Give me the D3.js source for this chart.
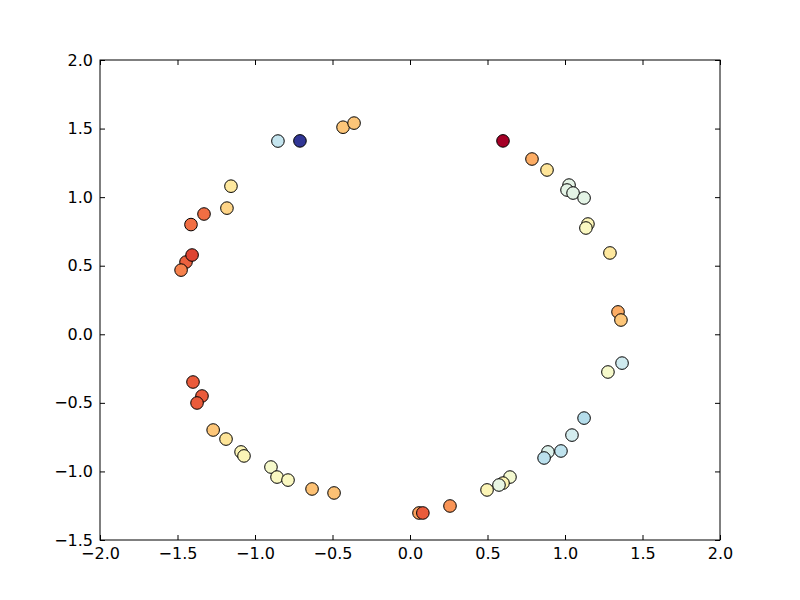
<!DOCTYPE html>
<html>
<head>
<meta charset="utf-8">
<script src="https://cdn.jsdelivr.net/npm/d3@7"></script>
<style>
  body { margin: 0; background: #fff; }
</style>
</head>
<body>
<svg width="800" height="600"></svg>
<script>
// point positions, colour value on the RdYlBu map
const xs = [-0.852, -0.71, -0.432, -0.361, -1.155, -1.181, -1.329, -1.413, -1.445, -1.477, -1.406,
  0.6, 0.787, 0.884, 1.026, 1.013, 1.052, 1.123, 1.148, 1.135, 1.29,
  1.342, 1.361, 1.368, 1.277, 1.123, 1.045, 0.974, 0.89, 0.865,
  0.645, 0.6, 0.574, 0.497, 0.258, 0.058, 0.083,
  -1.4, -1.342, -1.374, -1.27, -1.187, -1.09, -1.071, -0.897, -0.858, -0.787, -0.632, -0.49]
const ys = [1.409, 1.41, 1.51, 1.54, 1.08, 0.92, 0.877, 0.80, 0.527, 0.468, 0.578,
  1.41, 1.278, 1.198, 1.088, 1.052, 1.03, 0.994, 0.804, 0.775, 0.593,
  0.163, 0.104, -0.21, -0.275, -0.611, -0.735, -0.851, -0.858, -0.902,
  -1.041, -1.085, -1.099, -1.135, -1.252, -1.303, -1.303,
  -0.348, -0.45, -0.501, -0.698, -0.764, -0.858, -0.887, -0.968, -1.041, -1.063, -1.128, -1.157]
const cs = [0.65, 1.0, 0.35, 0.35, 0.43, 0.38, 0.2, 0.2, 0.18, 0.23, 0.13,
  0.0, 0.3, 0.42, 0.58, 0.58, 0.58, 0.58, 0.48, 0.5, 0.43,
  0.3, 0.35, 0.63, 0.52, 0.68, 0.62, 0.66, 0.6, 0.67,
  0.53, 0.47, 0.57, 0.48, 0.26, 0.28, 0.17,
  0.17, 0.17, 0.17, 0.35, 0.42, 0.48, 0.48, 0.52, 0.5, 0.5, 0.34, 0.34]
const xTicks = [-2.0, -1.5, -1.0, -0.5, 0.0, 0.5, 1.0, 1.5, 2.0]
const yTicks = [-1.5, -1.0, -0.5, 0.0, 0.5, 1.0, 1.5, 2.0]

const svg = d3.select('svg')
const margin = { top: 60, right: 80, bottom: 60, left: 100 }
const width = +svg.attr('width') - margin.left - margin.right
const height = +svg.attr('height') - margin.top - margin.bottom

const x = d3.scaleLinear().domain([-2, 2]).range([0, width])
const y = d3.scaleLinear().domain([-1.5, 2]).range([height, 0])
const fmt = d3.format('.1f')

const g = svg.append('g').attr('transform', `translate(${margin.left},${margin.top})`)

const data = xs.map((d, i) => ({ x: d, y: ys[i], c: cs[i] }))

g.selectAll('.dot')
  .data(data)
  .enter().append('circle')
  .attr('class', 'dot')
  .attr('cx', d => x(d.x))
  .attr('cy', d => y(d.y))
  .attr('r', 6.3)
  .attr('fill', d => d3.interpolateRdYlBu(d.c))
  .attr('stroke', '#000')
  .attr('stroke-width', 1)

// matplotlib classic: ticks pointing inward on all four sides
const tick = 5
const axes = [
  d3.axisBottom(x).tickValues(xTicks).tickFormat(fmt).tickSizeInner(-tick).tickSizeOuter(0).tickPadding(8),
  d3.axisTop(x).tickValues(xTicks).tickFormat('').tickSizeInner(-tick).tickSizeOuter(0),
  d3.axisLeft(y).tickValues(yTicks).tickFormat(fmt).tickSizeInner(-tick).tickSizeOuter(0).tickPadding(7),
  d3.axisRight(y).tickValues(yTicks).tickFormat('').tickSizeInner(-tick).tickSizeOuter(0)
]
const shifts = [`translate(0,${height})`, 'translate(0,0)', 'translate(0,0)', `translate(${width},0)`]
axes.forEach((a, i) => {
  const ag = g.append('g').attr('transform', shifts[i]).call(a)
    .attr('font-size', 16)
    .attr('font-family', '"DejaVu Sans", sans-serif')
  ag.select('.domain').remove()
  ag.selectAll('text').attr('fill', '#000')
  ag.selectAll('line').attr('stroke', '#000')
})
g.append('rect')
  .attr('width', width)
  .attr('height', height)
  .attr('fill', 'none')
  .attr('stroke', '#000')
  .attr('stroke-width', 1)
</script>
</body>
</html>
